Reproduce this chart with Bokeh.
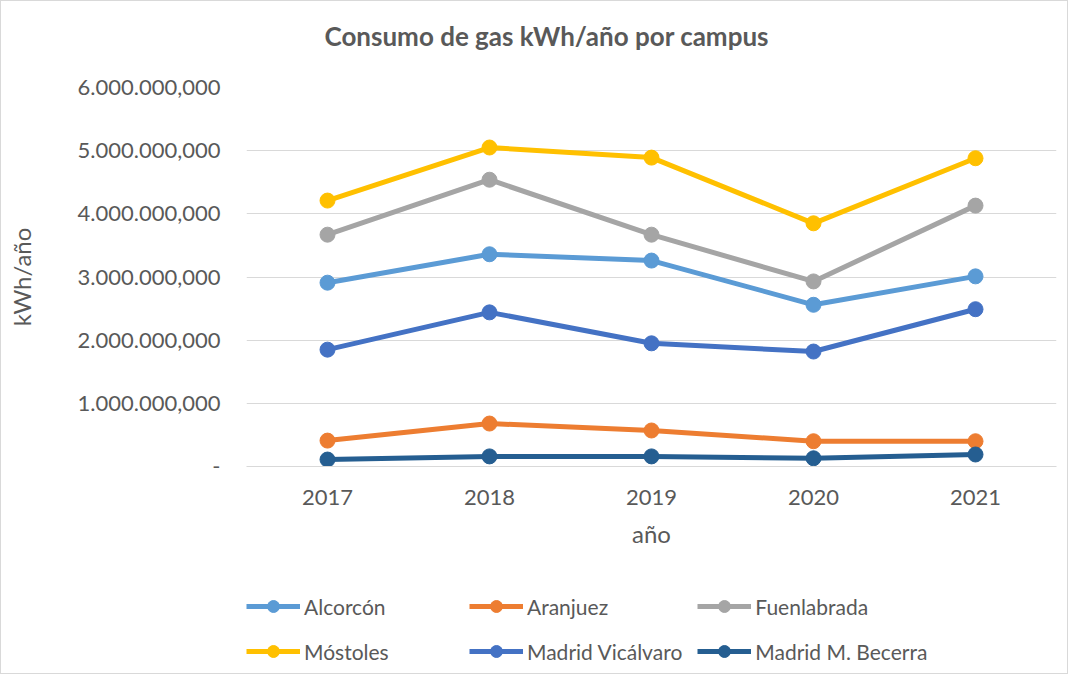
from bokeh.plotting import figure
from bokeh.layouts import column
from bokeh.models import (FactorRange, FixedTicker, CustomJSTickFormatter, Legend, LegendItem, Title)
from bokeh.embed import file_html
from bokeh.resources import INLINE

years = ["2017", "2018", "2019", "2020", "2021"]
alcorcon = [2910000, 3360000, 3260000, 2560000, 3010000]
aranjuez = [410000, 680000, 570000, 400000, 400000]
fuenlabrada = [3670000, 4540000, 3670000, 2930000, 4130000]
mostoles = [4210000, 5050000, 4890000, 3850000, 4880000]
vicalvaro = [1850000, 2440000, 1950000, 1820000, 2490000]
becerra = [110000, 160000, 160000, 130000, 190000]
y_ticks = [0, 1000000, 2000000, 3000000, 4000000, 5000000, 6000000]

series = [
    ("Alcorcón", alcorcon, "#5B9BD5"),
    ("Aranjuez", aranjuez, "#ED7D31"),
    ("Fuenlabrada", fuenlabrada, "#A5A5A5"),
    ("Móstoles", mostoles, "#FFC000"),
    ("Madrid Vicálvaro", vicalvaro, "#4472C4"),
    ("Madrid M. Becerra", becerra, "#255E91"),
]

FONT = "Lato"
TXT = "#595959"

p = figure(x_range=FactorRange(*years), y_range=(0, 6000000),
           frame_width=810, frame_height=379,
           output_backend="svg", toolbar_location=None,
           min_border_left=245, min_border_right=11, min_border_top=86, min_border_bottom=100)
p.background_fill_color = "white"
p.outline_line_color = None

p.title.text = "Consumo de gas kWh/año por campus"
p.title.align = "left"
p.title.offset = 78
p.title.standoff = 0
p.title.text_font = FONT
p.title.text_font_size = "26px"
p.title.text_font_style = "bold"
p.title.text_color = TXT
# blank spacer between title and plot area
p.add_layout(Title(text=" ", text_font_size="1px", standoff=33), "above")

p.yaxis.ticker = FixedTicker(ticks=y_ticks)
p.yaxis.formatter = CustomJSTickFormatter(code="""
if (tick == 0) { return "-"; }
const s = Math.round(tick).toString().replace(/\\B(?=(\\d{3})+(?!\\d))/g, ".");
return s + ",000";
""")
p.yaxis.axis_line_color = None
p.yaxis.major_tick_line_color = None
p.yaxis.minor_tick_line_color = None
p.yaxis.major_label_standoff = 20
p.yaxis.axis_label = "kWh/año"
p.yaxis.axis_label_standoff = 39

p.xaxis.axis_line_color = "#d9d9d9"
p.xaxis.major_tick_line_color = None
p.xaxis.major_label_standoff = 17
p.xaxis.axis_label = "año"
p.xaxis.axis_label_standoff = 11

for ax in (p.xaxis, p.yaxis):
    ax.major_label_text_font = FONT
    ax.major_label_text_font_size = "22px"
    ax.major_label_text_color = TXT
    ax.axis_label_text_font = FONT
    ax.axis_label_text_font_size = "24px"
    ax.axis_label_text_font_style = "normal"
    ax.axis_label_text_color = TXT

p.xgrid.grid_line_color = None
p.ygrid.grid_line_color = "#d9d9d9"
p.ygrid.grid_line_width = 1

for name, vals, col in series:
    p.line(years, vals, line_color=col, line_width=5)
    p.scatter(years, vals, size=15, fill_color=col, line_color=col)

# legend panel below the chart (frame aligned with the chart's frame)
lg = figure(width=1066, height=107, output_backend="svg", toolbar_location=None,
            x_range=(0, 1), y_range=(0, 1),
            min_border_left=245, min_border_right=11, min_border_top=0, min_border_bottom=0)
lg.axis.visible = False
lg.grid.grid_line_color = None
lg.outline_line_color = None
item_map = {}
for name, vals, col in series:
    l = lg.line([-5, -4], [-5, -5], line_color=col, line_width=5)
    s = lg.scatter([-5], [-5], size=15, fill_color=col, line_color=col)
    item_map[name] = LegendItem(label=name, renderers=[l, s])
# column-major fill: first column holds items 1 and 4 of the reading order
order = ["Alcorcón", "Móstoles", "Aranjuez", "Madrid Vicálvaro", "Fuenlabrada", "Madrid M. Becerra"]
legend = Legend(items=[item_map[n] for n in order], ncols=3, location=(0, 7),
                label_text_font=FONT, label_text_font_size="21px", label_text_color=TXT,
                glyph_width=54, glyph_height=30, label_standoff=4, spacing=15,
                label_width=150, label_height=30,
                border_line_color=None, background_fill_alpha=0, padding=0, margin=0)
lg.add_layout(legend, "center")

layout = column(p, lg, spacing=0)
layout.styles = {"border": "1px solid #d9d9d9"}

open("out.html", "w").write(file_html(layout, INLINE))
